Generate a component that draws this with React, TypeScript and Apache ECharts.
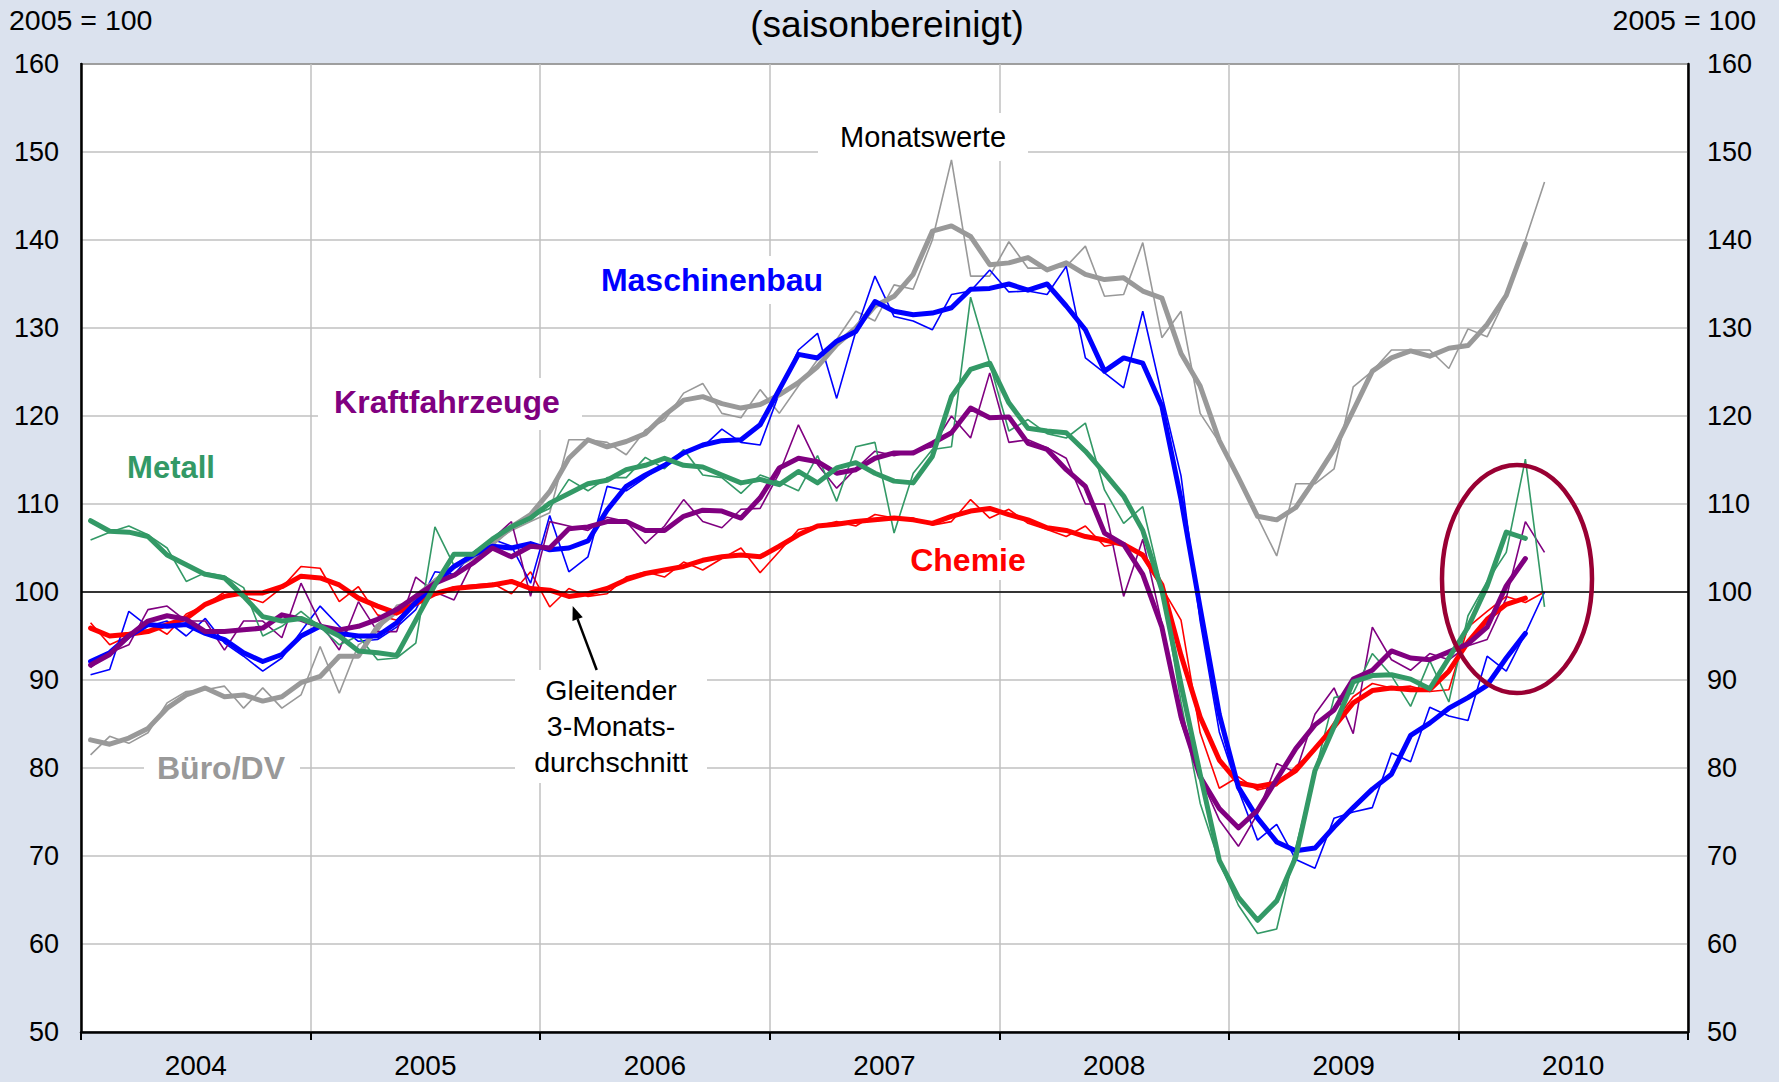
import React, { useEffect, useRef } from "react";
import * as echarts from "echarts";

const YEARS = ["2004", "2005", "2006", "2007", "2008", "2009", "2010"];
const MONTH_NAMES = ["Jan", "Feb", "Mär", "Apr", "Mai", "Jun", "Jul", "Aug", "Sep", "Okt", "Nov", "Dez"];
const MONTH_CATEGORIES = YEARS.flatMap((y) => MONTH_NAMES.map((m) => `${m} ${y}`));

const Y_MIN = 50;
const Y_MAX = 160;
const Y_STEP = 10;
const BASE_LINE = 100;

// Monatswerte (Jan 2004 - Mai 2010)
const metallMonthly = [
  105.9, 106.8, 107.5, 106.5, 105.0, 101.2, 102.2, 101.8, 100.5, 95.0, 96.1, 97.8,
  96.0, 94.0, 95.0, 92.3, 92.5, 94.2, 107.4, 103.0, 104.5, 106.0, 107.5, 108.5,
  109.5, 112.8, 111.5, 113.0, 113.0, 115.3, 114.0, 116.2, 113.3, 113.0, 111.2, 113.3,
  112.5, 111.5, 115.5, 110.3, 116.5, 117.0, 106.7, 113.5, 116.2, 116.5, 133.5, 126.0,
  118.3, 119.6, 118.0, 117.5, 119.2, 111.6, 107.8, 109.7, 100.5, 87.5, 76.0, 69.3,
  64.4, 61.2, 61.7, 71.0, 79.5, 88.0, 88.5, 93.0, 90.5, 87.0, 92.2, 87.5,
  97.3, 101.2, 104.5, 115.1, 98.3,
];
const chemieMonthly = [
  96.5, 94.0, 95.0, 96.5, 95.2, 97.5, 98.5, 100.0, 99.5, 98.8, 100.5, 102.9,
  102.7, 98.9, 100.6, 97.4, 96.8, 99.0, 99.8, 100.6, 100.8, 101.0, 99.8, 102.3,
  98.3, 100.4, 99.5, 99.8, 101.7, 102.3, 101.7, 103.4, 102.5, 103.8, 105.0, 102.2,
  104.6, 107.1, 107.5, 108.0, 107.5, 108.8, 108.4, 108.4, 107.6, 108.0, 110.5, 108.4,
  109.4, 107.8, 107.1, 106.3, 107.5, 105.2, 105.6, 104.0, 100.5, 96.8, 84.0, 77.7,
  79.0, 77.5, 78.0, 80.2, 82.0, 85.2, 88.1, 89.6, 89.1, 89.3, 88.7, 88.9,
  96.0, 97.8, 99.5, 98.8, 100.0,
];
const maschMonthly = [
  90.6, 91.2, 97.8, 96.1, 96.7, 95.0, 97.0, 94.2, 92.7, 91.0, 92.5, 95.5,
  98.4, 96.1, 94.4, 94.6, 96.0, 98.0, 102.3, 102.0, 104.5, 106.0, 105.2, 101.0,
  108.7, 102.3, 104.0, 112.0, 111.5, 113.0, 114.5, 116.0, 116.5, 118.5, 117.0, 116.7,
  122.6, 127.5, 129.4, 122.0, 129.6, 135.9, 131.3, 130.8, 129.8, 133.8, 134.2, 136.6,
  134.1, 134.2, 133.8, 137.0, 126.6, 124.9, 123.2, 131.9, 122.4, 113.2, 96.7, 84.1,
  77.5, 71.8, 73.6, 69.6, 68.6, 74.3, 75.0, 75.5, 81.7, 80.7, 86.9, 85.9,
  85.4, 92.7, 91.0, 95.3, 100.0,
];
const kfzMonthly = [
  91.4, 93.1, 94.0, 98.0, 98.4, 96.7, 96.7, 93.4, 96.7, 96.7, 94.8, 101.0,
  96.5, 93.4, 98.9, 95.5, 95.5, 101.7, 100.0, 99.1, 103.5, 106.0, 108.0, 99.5,
  108.0, 107.5, 107.0, 108.5, 108.0, 105.5, 107.5, 110.5, 108.0, 107.3, 109.4, 109.5,
  113.5, 119.0, 114.5, 111.8, 114.0, 116.0, 115.5, 116.0, 116.5, 120.0, 117.5, 124.9,
  117.0, 117.3, 116.4, 115.2, 110.0, 110.0, 99.5, 106.0, 96.4, 85.2, 79.0, 74.1,
  71.1, 74.8, 80.5, 79.5, 86.1, 89.1, 83.9, 96.0, 92.3, 91.1, 93.0, 92.3,
  93.9, 94.6, 99.3, 108.0, 104.5,
];
const bueroMonthly = [
  81.5, 83.6, 82.8, 84.0, 87.4, 88.7, 88.9, 89.3, 86.8, 89.1, 86.8, 88.3,
  93.8, 88.5, 94.0, 95.5, 98.5, 99.0, 101.5, 103.0, 104.0, 105.5, 107.0, 108.0,
  109.0, 117.3, 117.3, 117.0, 115.6, 118.4, 119.5, 122.6, 123.7, 120.3, 119.8, 123.0,
  120.3, 123.4, 126.4, 128.7, 131.9, 130.8, 134.9, 134.4, 140.0, 149.1, 135.9, 135.9,
  139.8, 136.8, 136.8, 137.0, 139.3, 133.6, 133.8, 139.7, 128.9, 131.9, 120.3, 117.0,
  113.2, 108.5, 104.1, 112.3, 112.3, 114.0, 123.3, 125.1, 127.5, 127.5, 127.5, 125.4,
  129.9, 129.0, 133.5, 140.0, 146.6,
];

// Gleitender 3-Monatsdurchschnitt (Jan 2004 - Apr 2010)
const metallAvg = [
  108.1, 106.9, 106.8, 106.3, 104.2, 103.1, 102.0, 101.6, 99.5, 97.2, 96.7, 97.0,
  96.1, 95.0, 93.3, 93.1, 92.8, 96.8, 100.8, 104.3, 104.3, 106.0, 107.4, 108.4,
  110.1, 111.2, 112.3, 112.7, 113.9, 114.4, 115.2, 114.4, 114.2, 113.3, 112.4, 112.8,
  112.2, 113.7, 112.4, 114.1, 114.7, 113.5, 112.6, 112.4, 115.4, 122.2, 125.3, 126.0,
  121.5, 118.6, 118.3, 118.1, 116.0, 113.5, 110.9, 107.0, 100.2, 89.5, 79.3, 69.5,
  65.3, 62.7, 64.9, 69.9, 79.7, 84.7, 89.8, 90.5, 90.6, 90.1, 89.0, 92.5,
  96.0, 100.7, 106.8, 106.1,
];
const chemieAvg = [
  95.9, 95.0, 95.2, 95.5, 96.3, 97.0, 98.6, 99.5, 99.9, 99.9, 100.6, 101.8,
  101.6, 100.8, 99.3, 98.4, 97.6, 98.7, 99.8, 100.4, 100.6, 100.8, 101.2, 100.4,
  100.2, 99.5, 99.8, 100.4, 101.4, 102.1, 102.5, 102.9, 103.6, 104.0, 104.2, 104.0,
  105.2, 106.5, 107.5, 107.7, 108.0, 108.2, 108.4, 108.2, 107.8, 108.6, 109.2, 109.5,
  108.8, 108.2, 107.3, 107.0, 106.3, 105.9, 105.4, 104.2, 100.8, 92.8, 85.8, 80.9,
  78.3, 77.9, 78.3, 79.7, 82.2, 84.7, 87.4, 88.8, 89.1, 88.9, 88.9, 91.0,
  94.3, 96.9, 98.6, 99.3,
];
const maschAvg = [
  92.1, 93.1, 95.0, 96.3, 96.1, 96.3, 95.3, 94.6, 93.1, 92.1, 92.9, 95.0,
  96.1, 95.3, 95.0, 95.0, 96.5, 98.8, 100.9, 102.9, 104.2, 105.2, 105.0, 105.5,
  104.8, 105.0, 105.8, 109.3, 112.0, 113.3, 114.4, 115.8, 116.7, 117.2, 117.3, 119.0,
  123.0, 127.0, 126.6, 128.5, 129.6, 133.0, 131.9, 131.5, 131.7, 132.3, 134.4, 134.5,
  135.0, 134.3, 135.0, 132.5, 129.8, 125.1, 126.6, 126.0, 121.1, 110.5, 98.2, 86.1,
  77.8, 74.3, 71.6, 70.6, 70.9, 73.3, 75.5, 77.6, 79.3, 83.7, 85.1, 86.8,
  88.0, 89.4, 92.5, 95.3,
];
const kfzAvg = [
  91.7, 92.9, 95.0, 96.7, 97.3, 96.9, 95.5, 95.5, 95.7, 95.9, 97.4, 96.9,
  96.1, 95.7, 96.1, 96.9, 98.0, 99.5, 101.0, 101.9, 103.3, 105.0, 104.0, 105.2,
  105.0, 107.2, 107.4, 108.0, 108.0, 107.0, 107.0, 108.6, 109.3, 109.2, 108.4, 110.7,
  114.1, 115.2, 114.8, 113.5, 113.9, 115.2, 115.8, 115.8, 116.9, 118.1, 120.9, 119.8,
  119.9, 116.9, 116.2, 113.9, 112.0, 106.7, 105.4, 102.0, 96.0, 85.8, 79.0, 75.4,
  73.2, 75.2, 78.7, 82.2, 84.9, 86.6, 90.1, 91.1, 93.3, 92.5, 92.3, 93.2,
  94.1, 96.0, 100.7, 103.8,
];
const bueroAvg = [
  83.2, 82.7, 83.4, 84.5, 86.8, 88.3, 89.1, 88.1, 88.3, 87.6, 88.1, 89.7,
  90.4, 92.7, 92.7, 96.1, 97.8, 99.5, 101.2, 102.9, 104.0, 105.5, 107.4, 108.8,
  111.4, 115.2, 117.3, 116.5, 117.1, 118.0, 120.1, 121.8, 122.2, 121.4, 120.9, 121.3,
  122.4, 123.8, 125.6, 128.1, 130.0, 132.5, 133.6, 136.1, 141.0, 141.6, 140.4, 137.2,
  137.4, 138.0, 136.6, 137.4, 136.1, 135.5, 135.7, 134.2, 133.4, 127.1, 123.4, 117.2,
  113.0, 108.6, 108.2, 109.6, 112.8, 116.2, 120.6, 125.1, 126.6, 127.4, 126.8, 127.7,
  128.0, 130.4, 133.7, 139.6,
];

const COLORS = {
  metall: "#339966",
  kfz: "#800080",
  masch: "#0000ff",
  chemie: "#ff0000",
  buero: "#999999",
};

const FONT = '"Liberation Sans", Arial, Helvetica, sans-serif';
const BG = "#dbe2ee";

export default function App() {
  const ref = useRef<HTMLDivElement>(null);

  useEffect(() => {
    document.body.style.margin = "0";
    const chart = echarts.init(ref.current!, undefined, { renderer: "svg" });

    const thin = (name: string, data: number[], color: string) => ({
      name,
      type: "line",
      xAxisIndex: 0,
      yAxisIndex: 0,
      data,
      symbol: "none",
      silent: true,
      lineStyle: { color, width: 1.6 },
      z: 3,
    });
    const thick = (name: string, data: number[], color: string) => ({
      name,
      type: "line",
      xAxisIndex: 0,
      yAxisIndex: 0,
      data,
      symbol: "none",
      silent: true,
      lineStyle: { color, width: 5, cap: "round", join: "round" },
      z: 4,
    });

    const series: any[] = [
      {
        ...thin("Büro/DV Monatswerte", bueroMonthly, COLORS.buero),
        markLine: {
          silent: true,
          symbol: ["none", "none"],
          label: { show: false },
          lineStyle: { color: "#000", width: 1.6, type: "solid" },
          data: [{ yAxis: BASE_LINE }],
        },
      },
      thin("Chemie Monatswerte", chemieMonthly, COLORS.chemie),
      thin("Maschinenbau Monatswerte", maschMonthly, COLORS.masch),
      thin("Kraftfahrzeuge Monatswerte", kfzMonthly, COLORS.kfz),
      thin("Metall Monatswerte", metallMonthly, COLORS.metall),
      thick("Büro/DV 3M", bueroAvg, COLORS.buero),
      thick("Chemie 3M", chemieAvg, COLORS.chemie),
      thick("Maschinenbau 3M", maschAvg, COLORS.masch),
      thick("Kraftfahrzeuge 3M", kfzAvg, COLORS.kfz),
      thick("Metall 3M", metallAvg, COLORS.metall),
    ];

    const box = (x: number, y: number, w: number, h: number) => ({
      type: "rect",
      shape: { x, y, width: w, height: h },
      style: { fill: "#ffffff" },
      z: 1,
      silent: true,
    });
    const label = (
      text: string,
      x: number,
      y: number,
      color: string,
      size: number,
      weight: string,
      align = "center",
      lineHeight?: number
    ) => ({
      type: "text",
      x,
      y,
      z: 20,
      silent: true,
      style: {
        text,
        fill: color,
        fontSize: size,
        fontWeight: weight,
        fontFamily: FONT,
        align,
        textAlign: align,
        verticalAlign: "middle",
        textVerticalAlign: "middle",
        lineHeight: lineHeight || size * 1.2,
      },
    });

    // Arrow geometry (annotation)
    const tail = [596.7, 670];
    const head = [572.7, 606];
    const dx = head[0] - tail[0];
    const dy = head[1] - tail[1];
    const len = Math.sqrt(dx * dx + dy * dy);
    const ux = dx / len;
    const uy = dy / len;
    const bx = head[0] - 14 * ux;
    const by = head[1] - 14 * uy;
    const px = -uy;
    const py = ux;

    const option: any = {
      animation: false,
      backgroundColor: BG,
      textStyle: { fontFamily: FONT },
      grid: {
        left: 81,
        right: 91,
        top: 64,
        bottom: 50,
        show: true,
        backgroundColor: "#ffffff",
        borderColor: "#000",
        borderWidth: 1.5,
        containLabel: false,
      },
      xAxis: [
        {
          type: "category",
          data: MONTH_CATEGORIES,
          boundaryGap: true,
          show: false,
          gridIndex: 0,
        },
        {
          type: "category",
          data: YEARS,
          boundaryGap: true,
          position: "bottom",
          gridIndex: 0,
          axisLine: { show: true, onZero: false, lineStyle: { color: "#000", width: 2.5 } },
          axisTick: { show: true, inside: false, length: 8, interval: 0, lineStyle: { color: "#000", width: 2 } },
          axisLabel: {
            interval: 0,
            margin: 19,
            fontSize: 28,
            lineHeight: 28,
            color: "#000",
            fontFamily: FONT,
          },
          splitLine: { show: true, interval: 0, lineStyle: { color: "#c0c0c0", width: 1.5 } },
        },
      ],
      yAxis: [
        {
          type: "value",
          min: Y_MIN,
          max: Y_MAX,
          interval: Y_STEP,
          position: "left",
          axisLine: { show: true, onZero: false, lineStyle: { color: "#000", width: 2.5 } },
          axisTick: { show: false },
          axisLabel: { margin: 22, fontSize: 27, color: "#000", fontFamily: FONT },
          splitLine: { show: true, lineStyle: { color: "#c0c0c0", width: 1.5 } },
        },
        {
          type: "value",
          min: Y_MIN,
          max: Y_MAX,
          interval: Y_STEP,
          position: "right",
          axisLine: { show: true, onZero: false, lineStyle: { color: "#000", width: 2.5 } },
          axisTick: { show: false },
          axisLabel: { margin: 19, fontSize: 27, color: "#000", fontFamily: FONT },
          splitLine: { show: false },
        },
      ],
      series,
      graphic: [
        box(818, 113, 210, 48),
        box(600, 256, 228, 48),
        box(318, 378, 264, 52),
        box(144, 747, 156, 42),
        box(515, 670, 192, 113),
        box(900, 540, 136, 40),
        label("(saisonbereinigt)", 887, 24, "#000", 37, "normal"),
        label("2005 = 100", 9, 20, "#000", 28.5, "normal", "left"),
        label("2005 = 100", 1756, 20, "#000", 28.5, "normal", "right"),
        label("Monatswerte", 923, 137, "#000", 29, "normal"),
        label("Gleitender\n3-Monats-\ndurchschnitt", 611, 726, "#000", 28.5, "normal", "center", 36),
        label("Metall", 171, 467, COLORS.metall, 31, "bold"),
        label("Kraftfahrzeuge", 447, 402, COLORS.kfz, 32, "bold"),
        label("Maschinenbau", 712, 280, COLORS.masch, 32, "bold"),
        label("Chemie", 968, 560, COLORS.chemie, 32, "bold"),
        label("Büro/DV", 221, 768, COLORS.buero, 32, "bold"),
        {
          type: "line",
          z: 20,
          silent: true,
          shape: { x1: tail[0], y1: tail[1], x2: bx, y2: by },
          style: { stroke: "#000", lineWidth: 2.5 },
        },
        {
          type: "polygon",
          z: 20,
          silent: true,
          shape: {
            points: [
              [head[0], head[1]],
              [bx + 5.5 * px, by + 5.5 * py],
              [bx - 5.5 * px, by - 5.5 * py],
            ],
          },
          style: { fill: "#000" },
        },
        {
          type: "ellipse",
          z: 30,
          silent: true,
          shape: { cx: 1517, cy: 579, rx: 75, ry: 114 },
          style: { fill: "none", stroke: "#990033", lineWidth: 4.5 },
        },
      ],
    };

    chart.setOption(option);
    return () => chart.dispose();
  }, []);

  return <div ref={ref} style={{ width: 1779, height: 1082 }} />;
}
